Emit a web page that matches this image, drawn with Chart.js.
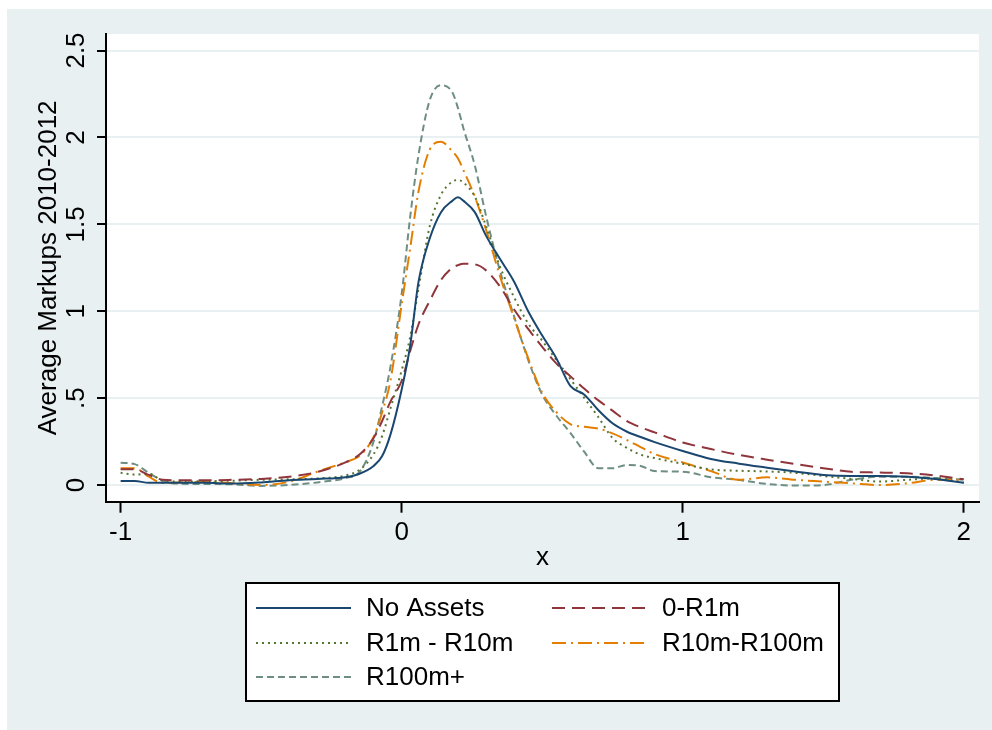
<!DOCTYPE html>
<html>
<head>
<meta charset="utf-8">
<script src="https://cdn.jsdelivr.net/npm/chart.js@4.4.1/dist/chart.umd.min.js"></script>
<style>
  html, body { margin: 0; padding: 0; background: #fff; }
  canvas { display: block; }
</style>
</head>
<body>
<canvas id="myChart" width="992" height="730"></canvas>
<script>
// x grid shared by all five density curves
var xs = [-1, -0.95, -0.9, -0.85, -0.8, -0.7, -0.6, -0.5, -0.4, -0.3,
          -0.2, -0.15, -0.1, -0.07, -0.04, 0, 0.03, 0.06, 0.1, 0.14,
          0.18, 0.2, 0.22, 0.26, 0.3, 0.35, 0.4, 0.45, 0.5, 0.55,
          0.6, 0.65, 0.7, 0.75, 0.8, 0.85, 0.9, 1, 1.1, 1.2,
          1.3, 1.4, 1.5, 1.6, 1.7, 1.8, 1.9, 2];

var noAssets = [0.023, 0.023, 0.013, 0.013, 0.013, 0.013, 0.008, 0.015, 0.028, 0.035,
                0.045, 0.065, 0.11, 0.165, 0.29, 0.55, 0.8, 1.17, 1.42, 1.57,
                1.635, 1.655, 1.635, 1.57, 1.435, 1.3, 1.17, 1.0, 0.86, 0.73,
                0.57, 0.52, 0.43, 0.355, 0.308, 0.276, 0.247, 0.196, 0.15, 0.123,
                0.1, 0.078, 0.058, 0.052, 0.052, 0.048, 0.035, 0.013];

var r0to1m = [0.09, 0.09, 0.058, 0.03, 0.027, 0.027, 0.03, 0.035, 0.048, 0.075,
              0.13, 0.175, 0.27, 0.367, 0.48, 0.6, 0.77, 0.925, 1.06, 1.18,
              1.25, 1.265, 1.273, 1.27, 1.235, 1.141, 1.01, 0.898, 0.795, 0.7,
              0.626, 0.554, 0.487, 0.428, 0.369, 0.332, 0.303, 0.245, 0.207, 0.173,
              0.146, 0.121, 0.097, 0.076, 0.072, 0.067, 0.055, 0.033];

var r1to10m = [0.07, 0.06, 0.065, 0.025, 0.02, 0.022, 0.025, 0.03, 0.033, 0.038,
               0.055, 0.087, 0.177, 0.28, 0.44, 0.66, 0.85, 1.13, 1.49, 1.67,
               1.745, 1.755, 1.74, 1.66, 1.49, 1.255, 1.08, 0.93, 0.83, 0.72,
               0.61, 0.5, 0.39, 0.27, 0.215, 0.175, 0.155, 0.122, 0.09, 0.082,
               0.078, 0.07, 0.052, 0.035, 0.02, 0.03, 0.038, 0.013];

var r10to100m = [0.096, 0.096, 0.048, 0.012, 0.015, 0.018, 0.01, 0.0, 0.019, 0.077,
                 0.132, 0.168, 0.276, 0.416, 0.6, 1.04, 1.36, 1.69, 1.93, 1.975,
                 1.92, 1.88, 1.81, 1.66, 1.47, 1.2, 0.96, 0.73, 0.53, 0.42,
                 0.35, 0.335, 0.325, 0.297, 0.26, 0.218, 0.178, 0.13, 0.08, 0.03,
                 0.044, 0.03, 0.02, 0.01, 0.0, 0.01, 0.03, 0.03];

var r100mPlus = [0.128, 0.12, 0.07, 0.025, 0.008, 0.006, 0.004, -0.005, 0.0, 0.015,
                 0.04, 0.075, 0.25, 0.45, 0.68, 1.1, 1.54, 1.9, 2.215, 2.3,
                 2.26, 2.17, 2.05, 1.84, 1.55, 1.23, 0.97, 0.72, 0.52, 0.4,
                 0.3, 0.19, 0.096, 0.096, 0.115, 0.11, 0.08, 0.077, 0.045, 0.029,
                 0.006, -0.003, 0.0, 0.03, 0.048, 0.048, 0.04, 0.03];

var seriesNames = ['No Assets', '0-R1m', 'R1m - R10m', 'R10m-R100m', 'R100m+'];
var seriesColors = ['#1A476F', '#90353B', '#55752F', '#E37E00', '#6E8E84'];
var seriesDash = [[], [13, 7], [2, 4], [14, 5, 2, 5], [7, 4]];

var xTicks = [-1, 0, 1, 2];
var yTicks = [0, 0.5, 1, 1.5, 2, 2.5];
var yTickLabels = ['0', '.5', '1', '1.5', '2', '2.5'];

var FONT = '"Liberation Sans", Arial, sans-serif';
var BG = '#E8F0F2';

function points(ys) {
    return xs.map(function (x, i) { return { x: x, y: ys[i] }; });
}

var allSeries = [noAssets, r0to1m, r1to10m, r10to100m, r100mPlus];
var datasets = allSeries.map(function (s, i) {
    return {
        label: seriesNames[i],
        data: points(s),
        borderColor: seriesColors[i],
        borderWidth: 2,
        borderDash: seriesDash[i],
        pointRadius: 0,
        fill: false,
        cubicInterpolationMode: 'monotone'
    };
});

// grey outer region + white plot area
var frame = {
    id: 'frame',
    beforeDraw: function (chart) {
        var c = chart.ctx, a = chart.chartArea;
        c.save();
        c.fillStyle = '#fff';
        c.fillRect(0, 0, chart.width, chart.height);
        c.fillStyle = BG;
        c.fillRect(7, 9, chart.width - 7, chart.height - 9);
        c.fillStyle = '#fff';
        c.fillRect(a.left, a.top, a.right - a.left, a.bottom - a.top);
        c.restore();
    }
};

// vertical y tick labels, Stata style
var yLabels = {
    id: 'yLabels',
    afterDraw: function (chart) {
        var s = chart.scales.y, c = chart.ctx;
        c.save();
        c.font = '26px ' + FONT;
        c.fillStyle = '#000';
        c.textAlign = 'center';
        c.textBaseline = 'middle';
        s.ticks.forEach(function (t) {
            var y = s.getPixelForValue(t.value);
            var idx = yTicks.indexOf(t.value);
            c.save();
            c.translate(77, y);
            c.rotate(-Math.PI / 2);
            c.fillText(idx >= 0 ? yTickLabels[idx] : String(t.value), 0, 0);
            c.restore();
        });
        c.restore();
    }
};

// boxed two-column legend under the axis
var boxLegend = {
    id: 'boxLegend',
    afterDraw: function (chart) {
        var c = chart.ctx;
        var colX = [256, 552], rowY = [608, 643, 677];
        c.save();
        c.fillStyle = '#fff';
        c.fillRect(246, 583, 593, 118);
        c.strokeStyle = '#000';
        c.lineWidth = 2;
        c.strokeRect(246, 583, 593, 118);
        c.font = '26px ' + FONT;
        c.textBaseline = 'middle';
        c.textAlign = 'left';
        chart.data.datasets.forEach(function (ds, i) {
            var x = colX[i % 2], y = rowY[Math.floor(i / 2)];
            c.beginPath();
            c.setLineDash(ds.borderDash);
            c.strokeStyle = ds.borderColor;
            c.lineWidth = 2;
            c.moveTo(x, y);
            c.lineTo(x + 95, y);
            c.stroke();
            c.setLineDash([]);
            c.fillStyle = '#000';
            c.fillText(ds.label, x + 110, y + 1);
        });
        c.restore();
    }
};

Chart.defaults.font.family = FONT;
Chart.defaults.font.size = 26;
Chart.defaults.color = '#000';

var ctx = document.getElementById('myChart').getContext('2d');
var myChart = new Chart(ctx, {
    type: 'line',
    data: { datasets: datasets },
    options: {
        responsive: false,
        animation: false,
        devicePixelRatio: 1,
        layout: { padding: { left: 0, top: 34, right: 13, bottom: 0 } },
        plugins: { legend: { display: false }, tooltip: { enabled: false } },
        scales: {
            x: {
                type: 'linear',
                min: -1.052,
                max: 2.054,
                afterBuildTicks: function (s) { s.ticks = xTicks.map(function (v) { return { value: v }; }); },
                afterFit: function (s) { s.height = 228.3; },
                ticks: { padding: 5, callback: function (v) { return String(v); } },
                grid: { drawOnChartArea: false, tickLength: 11, tickColor: '#000', tickWidth: 2 },
                border: { display: true, color: '#000', width: 2 },
                title: { display: true, text: 'x', padding: { top: 0, bottom: 157 } }
            },
            y: {
                type: 'linear',
                min: -0.096,
                max: 2.595,
                afterBuildTicks: function (s) { s.ticks = yTicks.map(function (v) { return { value: v }; }); },
                afterFit: function (s) { s.width = 106; },
                ticks: { display: false },
                grid: { color: BG, lineWidth: 2, tickLength: 9, tickColor: '#000', tickWidth: 2 },
                border: { display: true, color: '#000', width: 2 },
                title: { display: true, text: 'Average Markups 2010-2012', padding: { top: 33, bottom: 0 } }
            }
        }
    },
    plugins: [frame, yLabels, boxLegend]
});
</script>
</body>
</html>
